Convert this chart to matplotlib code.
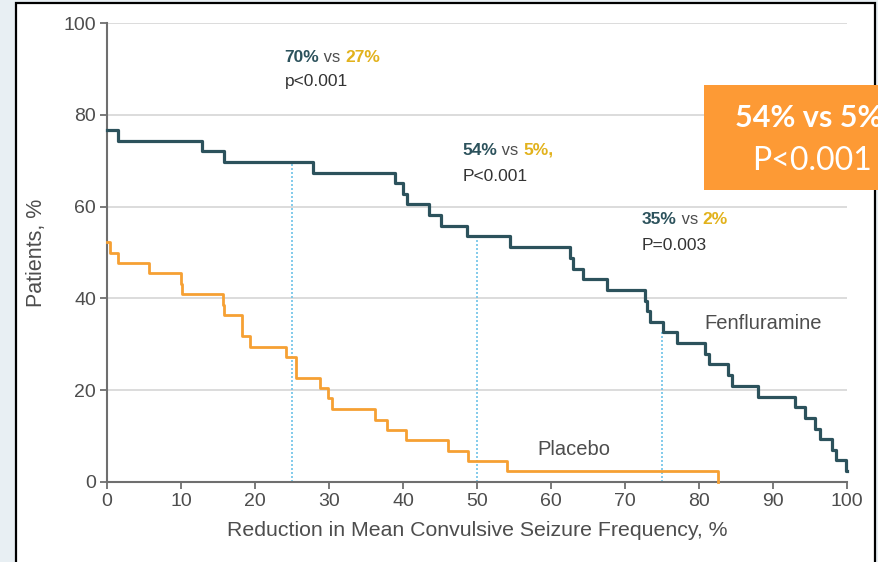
import matplotlib
matplotlib.use("Agg")
import matplotlib.pyplot as plt
from matplotlib.patches import Rectangle

plt.rcParams['font.family'] = ['Liberation Sans', 'DejaVu Sans']

# ---- data ----
fen_x = [0, 1.5, 12.8, 15.8, 27.8, 38.9, 40.0, 40.5, 43.5, 45.1, 48.6, 54.5,
         62.6, 63.0, 64.3, 67.6, 72.7, 73.0, 73.4, 75.2, 77.0, 80.8, 81.4,
         83.9, 84.5, 88.0, 93.0, 94.3, 95.7, 96.4, 98.0, 98.5, 99.8, 100]
fen_y = [76.7, 74.4, 72.1, 69.8, 67.4, 65.1, 62.8, 60.5, 58.1, 55.8, 53.5, 51.2,
         48.8, 46.5, 44.2, 41.9, 39.5, 37.2, 34.9, 32.6, 30.2, 27.9, 25.6,
         23.3, 20.9, 18.6, 16.3, 14.0, 11.6, 9.3, 7.0, 4.7, 2.3, 2.3]

pla_x = [0, 0.4, 1.5, 5.7, 10.0, 10.1, 15.7, 15.8, 18.2, 18.3, 19.3, 24.2,
         25.5, 25.6, 28.8, 29.9, 30.4, 36.2, 37.8, 40.4, 46.1, 48.8, 54.0, 82.6]
pla_y = [52.3, 50.0, 47.7, 45.5, 43.2, 40.9, 38.6, 36.4, 34.1, 31.8, 29.5, 27.3,
         25.0, 22.7, 20.5, 18.2, 15.9, 13.6, 11.4, 9.1, 6.8, 4.5, 2.3, 0]

cut_x = [25, 50, 75]
cut_top = [69.8, 53.5, 32.6]

ann_fen = ["70%", "54%", "35%"]
ann_pla = ["27%", "5%,", "2%"]
ann_p = ["p<0.001", "P<0.001", "P=0.003"]
ann_pos = [(24.0, 91.5, 86.2), (48.0, 71.3, 65.6), (72.3, 56.3, 50.6)]

xticks = [0, 10, 20, 30, 40, 50, 60, 70, 80, 90, 100]
yticks = [0, 20, 40, 60, 80, 100]

TEAL = '#2c525c'
ORANGE = '#f6a033'
GOLD = '#e2b21c'
GRAY_TXT = '#4d4d4d'

W, H = 879, 562
fig = plt.figure(figsize=(W / 100, H / 100), dpi=100)
fig.patch.set_facecolor('#e8eff3')

# white panel with black border
fig.add_artist(Rectangle((16 / W, -0.02), (875 - 16) / W, 1.02 - 3 / H,
                         transform=fig.transFigure, facecolor='white',
                         edgecolor='black', lw=1.6, zorder=0))

ax = fig.add_axes([107 / W, 1 - 482 / H, (847 - 107) / W, (482 - 23) / H])
ax.set_facecolor('none')
ax.set_xlim(0, 100)
ax.set_ylim(0, 100)

for yt in yticks[1:]:
    ax.axhline(yt, color='#dcdcdc', lw=1.4, zorder=1)

ax.vlines(cut_x, 0, cut_top, colors='#6ec2e8', linestyles=(0, (1.2, 1.2)), lw=1.2, zorder=2)

ax.step(pla_x, pla_y, where='post', color=ORANGE, lw=2.0, zorder=3, clip_on=False)
ax.step(fen_x, fen_y, where='post', color=TEAL, lw=2.3, zorder=4, clip_on=False)

for s in ['top', 'right']:
    ax.spines[s].set_visible(False)
for s in ['left', 'bottom']:
    ax.spines[s].set_color('#6f6f6f')
    ax.spines[s].set_linewidth(1.5)

ax.set_xticks(xticks)
ax.set_yticks(yticks)
ax.tick_params(axis='both', colors='#6f6f6f', labelcolor=GRAY_TXT, length=5,
               width=1.3, labelsize=14, pad=3)
ax.set_xlabel('Reduction in Mean Convulsive Seizure Frequency, %', fontsize=15.3,
              color=GRAY_TXT, labelpad=8)
ax.set_ylabel('Patients, %', fontsize=15.5, color=GRAY_TXT, labelpad=12)

# annotations
for i in range(3):
    x, y1, y2 = ann_pos[i]
    t1 = ax.text(x, y1, ann_fen[i], color=TEAL, fontsize=12.5, fontweight='bold',
                 va='baseline', ha='left')
    t2 = ax.annotate(' vs ', xy=(1, 0), xycoords=t1, color=GRAY_TXT, fontsize=12,
                     va='bottom', ha='left')
    ax.annotate(ann_pla[i], xy=(1, 0), xycoords=t2, color=GOLD, fontsize=12.5,
                fontweight='bold', va='bottom', ha='left')
    ax.text(x, y2, ann_p[i], color='#333333', fontsize=12.5, va='baseline', ha='left')

ax.text(80.7, 34.5, 'Fenfluramine', color=GRAY_TXT, fontsize=14.5, va='center', ha='left')
ax.text(58.1, 7.0, 'Placebo', color=GRAY_TXT, fontsize=14.5, va='center', ha='left')

# orange callout box
fig.add_artist(Rectangle((704 / W, 1 - 190 / H), (W - 704) / W + 0.01, 105 / H,
                         transform=fig.transFigure, facecolor='#fd9a35',
                         edgecolor='none', zorder=5))
fig.text(735 / W, 1 - 118 / H, '54% vs 5%', color='white', fontsize=22,
         fontweight='bold', va='center', ha='left', family=['Lato', 'DejaVu Sans'], zorder=6)
fig.text(812 / W, 1 - 161 / H, 'P<0.001', color='white', fontsize=23,
         va='center', ha='center', family=['Lato', 'DejaVu Sans'], zorder=6)

fig.savefig('out.png', dpi=100, facecolor=fig.get_facecolor())
